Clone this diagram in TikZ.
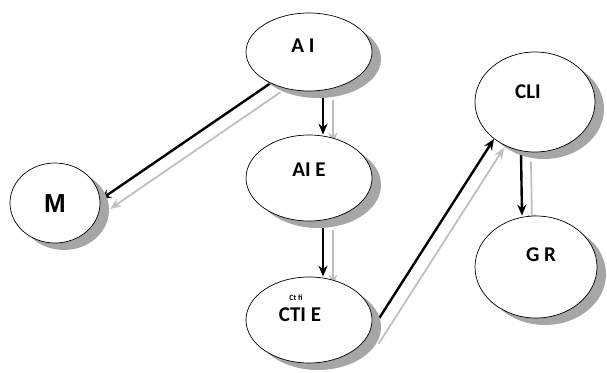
\documentclass[tikz,border=0pt]{standalone}
\usepackage{fontspec}
\setmainfont{Carlito}
\newfontfamily\arialfont{Liberation Sans}
\usetikzlibrary{shapes.geometric,shadows,arrows.meta,backgrounds}

\tikzset{
  bubble/.style={ellipse, draw=black, line width=0.7pt, fill=white, inner sep=0pt,
    drop shadow={shadow xshift=9pt, shadow yshift=-7pt, fill=black!35, opacity=1}},
  tag/.style={font=\fontsize{21}{24}\selectfont\bfseries},
  link/.style={line width=2.4pt, -{Stealth[length=11pt,width=9pt]},
    preaction={draw=black!25, line width=1.8pt, transform canvas={shift={(10pt,-9pt)}}}},
}

\begin{document}
\begin{tikzpicture}[x=1pt,y=-1pt]
    \useasboundingbox (0,0) rectangle (607,372);

    \node[bubble, minimum width=126pt, minimum height=78pt,
          label={[tag, xshift=-6pt, yshift=6pt]center:A I}] (ai) at (309,52) {};
    \node[bubble, minimum width=126pt, minimum height=86pt,
          label={[tag, yshift=8pt]center:AI E}] (aie) at (309,178) {};
    \node[bubble, minimum width=126pt, minimum height=86pt,
          label={[tag, xshift=-9pt, yshift=5pt]center:CTI E}] (ctie) at (309,320) {};
    \node[bubble, minimum width=90pt, minimum height=80pt,
          label={[font=\arialfont\fontsize{26}{29}\selectfont\bfseries, yshift=-1pt]center:M}] (m) at (55,203) {};
    \node[bubble, minimum width=120pt, minimum height=100pt,
          label={[tag, xshift=-7pt, yshift=10pt]center:CLI}] (cli) at (535,102) {};
    \node[bubble, minimum width=122pt, minimum height=102pt,
          label={[tag, xshift=5pt, yshift=12pt]center:G R}] (gr) at (536,267) {};
    \node[font=\fontsize{8}{9}\selectfont\bfseries, inner sep=0pt] (ctiex) at (296,298) {Ct fi};

    % links behind the bubbles
    \begin{scope}[on background layer]
        \draw[link] (ai.219) -- (m.4);
        \draw[link] ([xshift=14pt]ai.south) -- ([xshift=14pt]aie.north);
        \draw[link] ([xshift=14pt]aie.south) -- ([xshift=14pt]ctie.north);
        \draw[link] (ctie.-14) -- (cli.222);
        \draw[link] ([xshift=-14pt]cli.south) -- ([xshift=-14pt]gr.north);
    \end{scope}
\end{tikzpicture}
\end{document}
